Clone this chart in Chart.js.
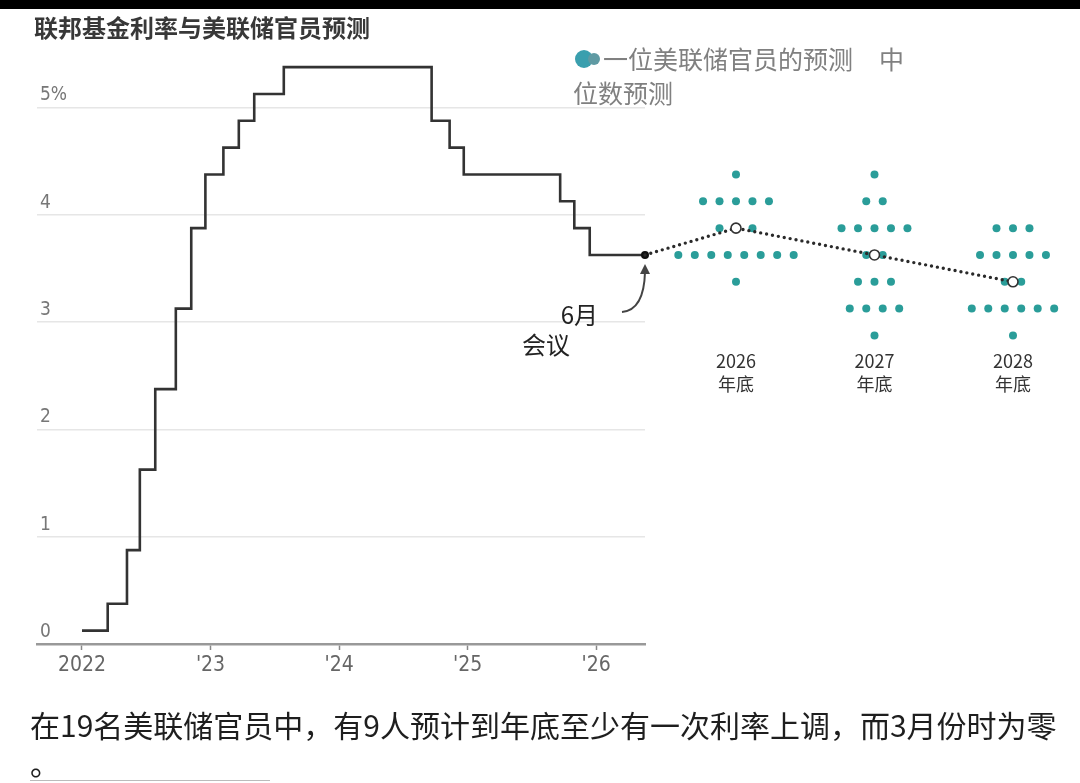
<!DOCTYPE html>
<html lang="zh-CN">
<head>
<meta charset="utf-8">
<title>联邦基金利率与美联储官员预测</title>
<script src="https://cdn.jsdelivr.net/npm/chart.js@4.4.1/dist/chart.umd.min.js"></script>
<style>
  html, body { margin: 0; padding: 0; background: #fff; }
  body {
    width: 1080px; height: 783px; position: relative; overflow: hidden;
    font-family: 'Noto Sans CJK SC', 'Noto Sans', sans-serif;
  }
  #topbar { position: absolute; left: 0; top: 0; width: 1080px; height: 9px; background: #000; }
  #chartWrap { position: absolute; left: 0; top: 0; }
  #title {
    position: absolute; left: 34px; top: 14px; line-height: 26px;
    font-size: 24px; font-weight: bold; color: #383838;
  }
  #legend {
    position: absolute; left: 573px; top: 41px; line-height: 34px;
    font-size: 25px; color: #808080; text-indent: 30px; white-space: nowrap;
  }
  #legend .dot {
    position: absolute; left: 2px; top: 9px; width: 18px; height: 18px;
    border-radius: 50%; background: #3a9fae;
  }
  #legend .dot2 {
    position: absolute; left: 15px; top: 12px; width: 12px; height: 12px;
    border-radius: 50%; background: #5f9aa3;
  }
  #caption {
    position: absolute; left: 30px; top: 705px; line-height: 38px;
    font-size: 30px; color: #1e1e1e; white-space: nowrap;
  }
  #underline { position: absolute; left: 30px; top: 780px; width: 240px; height: 1px; background: #bbb; }
</style>
</head>
<body>
<div id="topbar"></div>
<div id="chartWrap"><canvas id="rateChart" width="1080" height="783"></canvas></div>
<div id="title">联邦基金利率与美联储官员预测</div>
<div id="legend"><span class="dot"></span><span class="dot2"></span>一位美联储官员的预测<span style="margin-left:26px">中</span><br>位数预测</div>
<div id="caption">在19名美联储官员中，有9人预计到年底至少有一次利率上调，而3月份时为零<br>。</div>
<div id="underline"></div>

<script>
// Fed funds rate (range midpoint) - each point is the date of a change
const rateDates = [2022.0, 2022.2, 2022.35, 2022.45, 2022.57, 2022.73, 2022.85, 2022.96,
                   2023.1, 2023.22, 2023.34, 2023.57, 2024.72, 2024.86, 2024.97,
                   2025.72, 2025.83, 2025.95, 2026.38];
const rateLevels = [0.125, 0.375, 0.875, 1.625, 2.375, 3.125, 3.875, 4.375,
                    4.625, 4.875, 5.125, 5.375, 4.875, 4.625, 4.375,
                    4.125, 3.875, 3.625, 3.625];

// Dot plot (year-end projections)
const projYears = [2026, 2027, 2028];
const projMedians = [3.875, 3.625, 3.375];
const dotLevels = [4.375, 4.125, 3.875, 3.625, 3.375, 3.125, 2.875];
const dotCounts2026 = [1, 5, 3, 8, 1, 0, 0];
const dotCounts2027 = [1, 2, 5, 2, 3, 4, 1];
const dotCounts2028 = [0, 0, 3, 5, 2, 6, 1];

// Axis ticks
const xTickYears = [2022, 2023, 2024, 2025, 2026];
const xTickLabels = ['2022', "'23", "'24", "'25", "'26"];
const yTickValues = [0, 1, 2, 3, 4, 5];
const yTickLabels = ['0', '1', '2', '3', '4', '5%'];

const TEAL = '#2a9d99';
const INK = '#333';
const DOT_STEP = 0.119; // horizontal spacing of dots, in projection-axis units

function buildDots() {
    const counts = [dotCounts2026, dotCounts2027, dotCounts2028];
    const pts = [];
    projYears.forEach((yr, c) => {
        dotLevels.forEach((lvl, r) => {
            const n = counts[c][r];
            for (let i = 0; i < n; i++) {
                pts.push({ x: yr + (i - (n - 1) / 2) * DOT_STEP, y: lvl });
            }
        });
    });
    return pts;
}

const stepData = rateDates.map((d, i) => ({ x: d, y: rateLevels[i] }));
const medianData = projYears.map((yr, i) => ({ x: yr, y: projMedians[i] }));

// the dot plot sits to the right of the chart area, so its points are
// drawn here with the whole canvas as the allowed area
const annotations = {
    id: 'annotations',
    afterDatasetDraw(chart, args) {
        if (args.index !== 1 && args.index !== 2) return;
        const ctx = chart.ctx;
        const full = { left: 0, top: 0, right: chart.width, bottom: chart.height };
        ctx.save();
        args.meta.data.forEach(el => el.draw(ctx, full));
        ctx.restore();
        if (args.index !== 1) return;

        // dotted median path from the June meeting
        const stepPts = chart.getDatasetMeta(0).data;
        const start = stepPts[stepPts.length - 1];
        const meds = chart.getDatasetMeta(2).data;
        ctx.save();
        ctx.strokeStyle = '#2a2a2a';
        ctx.lineWidth = 3.4;
        ctx.lineCap = 'round';
        ctx.setLineDash([0, 6]);
        ctx.beginPath();
        ctx.moveTo(start.x, start.y);
        meds.forEach(p => ctx.lineTo(p.x, p.y));
        ctx.stroke();
        ctx.restore();
    },
    afterDraw(chart) {
        const ctx = chart.ctx;
        const xp = chart.scales.xp;
        const y = chart.scales.y;
        const stepPts = chart.getDatasetMeta(0).data;
        const jp = stepPts[stepPts.length - 1];
        ctx.save();
        // arrow to June meeting
        ctx.strokeStyle = '#444';
        ctx.fillStyle = '#444';
        ctx.lineWidth = 2;
        ctx.beginPath();
        ctx.moveTo(jp.x - 23, jp.y + 57);
        ctx.quadraticCurveTo(jp.x - 1, jp.y + 55, jp.x, jp.y + 17);
        ctx.stroke();
        ctx.beginPath();
        ctx.moveTo(jp.x, jp.y + 9);
        ctx.lineTo(jp.x - 5, jp.y + 19);
        ctx.lineTo(jp.x + 5, jp.y + 19);
        ctx.closePath();
        ctx.fill();

        ctx.fillStyle = '#222';
        ctx.font = '24px "Noto Sans CJK SC", "Noto Sans", sans-serif';
        ctx.textAlign = 'right';
        ctx.textBaseline = 'middle';
        ctx.fillText('6月', jp.x - 47, jp.y + 60);
        ctx.fillText('会议', jp.x - 75, jp.y + 90);

        // column labels under the dots
        const base = y.getPixelForValue(Math.min(...dotLevels));
        ctx.fillStyle = INK;
        ctx.font = '18px "Noto Sans CJK SC", "Noto Sans", sans-serif';
        ctx.textAlign = 'center';
        projYears.forEach(yr => {
            const px = xp.getPixelForValue(yr);
            ctx.fillText(String(yr), px, base + 26);
            ctx.fillText('年底', px, base + 49);
        });
        ctx.restore();
    }
};

new Chart(document.getElementById('rateChart'), {
    type: 'line',
    data: {
        datasets: [
            {
                type: 'line',
                data: stepData,
                xAxisID: 'x',
                stepped: true,
                borderColor: INK,
                borderWidth: 2.6,
                pointRadius: ctx => ctx.dataIndex === rateDates.length - 1 ? 4 : 0,
                pointBackgroundColor: '#111',
                pointBorderWidth: 0,
                clip: false,
                order: 3
            },
            {
                type: 'scatter',
                data: buildDots(),
                xAxisID: 'xp',
                pointRadius: 4,
                backgroundColor: TEAL,
                borderWidth: 0,
                clip: false,
                order: 2
            },
            {
                type: 'scatter',
                data: medianData,
                xAxisID: 'xp',
                pointRadius: 5,
                backgroundColor: '#fff',
                borderColor: INK,
                borderWidth: 1.6,
                clip: false,
                order: 1
            }
        ]
    },
    options: {
        responsive: false,
        animation: false,
        layout: { padding: { left: 37, right: 435, top: 43, bottom: 99 } },
        plugins: { legend: { display: false }, tooltip: { enabled: false } },
        scales: {
            x: {
                type: 'linear',
                min: 2021.65,
                max: 2026.38,
                afterBuildTicks: s => { s.ticks = xTickYears.map(v => ({ value: v })); },
                afterFit: s => { s.height = 40; },
                grid: { drawOnChartArea: false, drawTicks: true, tickLength: 6, tickColor: '#888', tickWidth: 1.5 },
                border: { display: true, color: '#999', width: 2.5 },
                ticks: {
                    padding: 3,
                    color: '#666',
                    font: { family: '"Liberation Sans Narrow", "DejaVu Sans Condensed", sans-serif', size: 21 },
                    callback: (v, i) => xTickLabels[i]
                }
            },
            xp: {
                type: 'linear',
                display: false,
                min: 2020.953,
                max: 2025.343
            },
            y: {
                min: 0,
                max: 5.6,
                afterBuildTicks: s => { s.ticks = yTickValues.map(v => ({ value: v })); },
                afterFit: s => { s.width = 0; },
                grid: { color: '#e6e6e6', lineWidth: 1.5, drawTicks: false },
                border: { display: false },
                ticks: {
                    mirror: true,
                    padding: 3,
                    labelOffset: -12,
                    color: '#777',
                    font: { family: '"Liberation Sans Narrow", "DejaVu Sans Condensed", sans-serif', size: 19 },
                    callback: (v, i) => yTickLabels[i]
                }
            }
        }
    },
    plugins: [annotations]
});
</script>
</body>
</html>
